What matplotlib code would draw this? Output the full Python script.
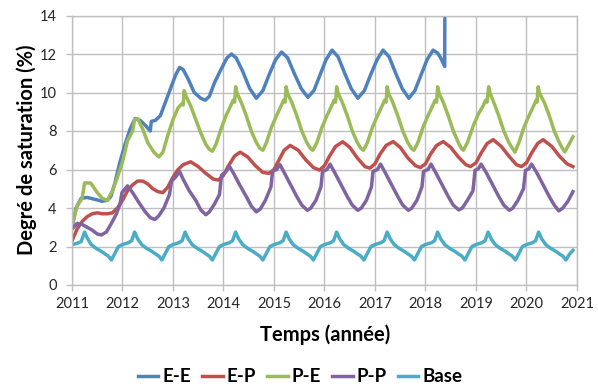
import matplotlib
matplotlib.use('Agg')
import matplotlib.pyplot as plt

plt.rcParams['font.family'] = ['Lato', 'DejaVu Sans']

# E-E
ee_t = [2011.0, 2011.08, 2011.18, 2011.3, 2011.45, 2011.6, 2011.7, 2011.77, 2011.85, 2011.95,
        2012.05, 2012.15, 2012.25, 2012.35, 2012.45, 2012.55, 2012.57, 2012.65, 2012.75, 2012.85,
        2012.95, 2013.05, 2013.13, 2013.2, 2013.3, 2013.42, 2013.55, 2013.64, 2013.72, 2013.82,
        2013.95, 2014.07, 2014.16, 2014.25, 2014.38, 2014.52, 2014.65, 2014.78, 2014.9, 2015.03,
        2015.15, 2015.27, 2015.4, 2015.54, 2015.67, 2015.79, 2015.91, 2016.03, 2016.15, 2016.27,
        2016.4, 2016.53, 2016.66, 2016.79, 2016.91, 2017.04, 2017.16, 2017.28, 2017.41, 2017.54,
        2017.67, 2017.79, 2017.91, 2018.03, 2018.15, 2018.24, 2018.3, 2018.38, 2018.385]
ee_v = [3.0, 4.0, 4.5, 4.55, 4.45, 4.35, 4.4, 4.6, 5.3, 6.4,
        7.3, 8.1, 8.65, 8.55, 8.3, 8.0, 8.5, 8.55, 8.8, 9.5,
        10.2, 10.9, 11.3, 11.2, 10.7, 10.0, 9.7, 9.6, 9.8, 10.5,
        11.2, 11.8, 12.0, 11.8, 11.1, 10.2, 9.7, 10.1, 10.9, 11.7,
        12.1, 11.8, 11.0, 10.2, 9.75, 10.1, 10.9, 11.7, 12.2, 11.85,
        11.0, 10.2, 9.7, 10.1, 10.9, 11.7, 12.2, 11.85, 11.0, 10.2,
        9.7, 10.1, 10.9, 11.7, 12.2, 12.05, 11.8, 11.35, 16.0]

# E-P
ep_t = [2011.0, 2011.1, 2011.2, 2011.3, 2011.4, 2011.5, 2011.6, 2011.7, 2011.8, 2011.9,
        2012.0, 2012.1, 2012.2, 2012.3, 2012.4, 2012.5, 2012.6, 2012.7, 2012.8, 2012.9,
        2013.0, 2013.1, 2013.2, 2013.35, 2013.5, 2013.65, 2013.8, 2013.9, 2014.0, 2014.1,
        2014.22, 2014.33, 2014.48, 2014.63, 2014.78, 2014.9, 2015.0, 2015.1, 2015.2, 2015.32,
        2015.48, 2015.63, 2015.78, 2015.9, 2016.0, 2016.1, 2016.22, 2016.36, 2016.5, 2016.65,
        2016.8, 2016.9, 2017.0, 2017.1, 2017.22, 2017.36, 2017.5, 2017.65, 2017.8, 2017.9,
        2018.0, 2018.1, 2018.22, 2018.35, 2018.5, 2018.65, 2018.8, 2018.89, 2019.0, 2019.1,
        2019.22, 2019.34, 2019.5, 2019.65, 2019.8, 2019.9, 2020.0, 2020.1, 2020.22, 2020.33,
        2020.5, 2020.65, 2020.8, 2020.92]
ep_v = [2.3, 2.9, 3.3, 3.55, 3.7, 3.75, 3.7, 3.7, 3.75, 4.0,
        4.4, 4.9, 5.2, 5.4, 5.4, 5.25, 5.0, 4.85, 4.8, 5.1,
        5.6, 6.0, 6.25, 6.4, 6.15, 5.8, 5.5, 5.45, 5.7, 6.2,
        6.7, 6.9, 6.65, 6.2, 5.85, 5.8, 6.0, 6.5, 7.0, 7.25,
        7.0, 6.5, 6.1, 5.97, 6.2, 6.7, 7.2, 7.44, 7.15, 6.6,
        6.15, 6.07, 6.3, 6.8, 7.25, 7.45, 7.15, 6.6, 6.2, 6.1,
        6.3, 6.8, 7.25, 7.45, 7.15, 6.65, 6.25, 6.15, 6.35, 6.85,
        7.35, 7.55, 7.2, 6.7, 6.25, 6.15, 6.35, 6.85, 7.35, 7.55,
        7.2, 6.7, 6.3, 6.15]

# P-E
pe_t = [2011.0, 2011.1, 2011.2, 2011.25, 2011.37, 2011.5, 2011.6, 2011.7, 2011.8, 2011.9,
        2012.0, 2012.1, 2012.2, 2012.24, 2012.3, 2012.4, 2012.5, 2012.62, 2012.72, 2012.8,
        2012.9, 2013.0, 2013.1, 2013.17, 2013.2, 2013.22, 2013.26, 2013.35, 2013.45, 2013.55,
        2013.65, 2013.72, 2013.78, 2013.85, 2013.95, 2014.05, 2014.14, 2014.19, 2014.22, 2014.24,
        2014.27, 2014.35, 2014.45, 2014.55, 2014.65, 2014.72, 2014.78, 2014.85, 2014.95, 2015.05,
        2015.14, 2015.19, 2015.22, 2015.24, 2015.27, 2015.35, 2015.45, 2015.55, 2015.65, 2015.72,
        2015.77, 2015.85, 2015.95, 2016.05, 2016.14, 2016.19, 2016.22, 2016.24, 2016.27, 2016.35,
        2016.45, 2016.55, 2016.65, 2016.72, 2016.77, 2016.85, 2016.95, 2017.05, 2017.14, 2017.19,
        2017.22, 2017.24, 2017.27, 2017.35, 2017.45, 2017.55, 2017.65, 2017.72, 2017.77, 2017.85,
        2017.95, 2018.05, 2018.14, 2018.19, 2018.22, 2018.24, 2018.27, 2018.35, 2018.45, 2018.55,
        2018.65, 2018.71, 2018.75, 2018.83, 2018.95, 2019.05, 2019.14, 2019.19, 2019.22, 2019.25,
        2019.28, 2019.35, 2019.45, 2019.55, 2019.65, 2019.72, 2019.77, 2019.85, 2019.95, 2020.05,
        2020.14, 2020.19, 2020.21, 2020.23, 2020.26, 2020.35, 2020.45, 2020.55, 2020.65, 2020.71,
        2020.76, 2020.84, 2020.92]
pe_v = [3.1, 4.1, 4.5, 5.3, 5.3, 4.8, 4.5, 4.4, 4.9, 5.6,
        6.4, 7.5, 8.0, 8.6, 8.65, 8.1, 7.4, 6.9, 6.65, 6.9,
        7.8, 8.6, 9.2, 9.4, 9.35, 10.1, 9.8, 9.3, 8.6, 7.9,
        7.3, 7.05, 6.95, 7.3, 8.1, 8.8, 9.3, 9.6, 9.5, 10.3,
        9.95, 9.5, 8.8, 8.0, 7.4, 7.1, 7.0, 7.4, 8.2, 8.8,
        9.3, 9.6, 9.5, 10.3, 9.95, 9.5, 8.8, 8.0, 7.4, 7.1,
        7.0, 7.4, 8.2, 8.8, 9.3, 9.6, 9.5, 10.3, 9.95, 9.5,
        8.8, 8.0, 7.4, 7.1, 7.0, 7.4, 8.2, 8.8, 9.3, 9.6,
        9.5, 10.3, 9.95, 9.5, 8.8, 8.0, 7.4, 7.1, 7.0, 7.4,
        8.2, 8.8, 9.3, 9.6, 9.5, 10.3, 9.95, 9.5, 8.8, 8.0,
        7.4, 7.1, 7.0, 7.4, 8.3, 8.9, 9.3, 9.6, 9.5, 10.3,
        9.95, 9.5, 8.8, 8.0, 7.4, 7.1, 6.9, 7.4, 8.2, 8.8,
        9.3, 9.6, 9.5, 10.3, 9.95, 9.5, 8.8, 8.0, 7.4, 7.1,
        6.92, 7.3, 7.7]

# P-P
pp_t = [2011.0, 2011.1, 2011.2, 2011.3, 2011.4, 2011.5, 2011.58, 2011.68, 2011.78, 2011.88,
        2011.95, 2011.99, 2012.1, 2012.2, 2012.32, 2012.45, 2012.55, 2012.64, 2012.72, 2012.82,
        2012.93, 2012.97, 2013.05, 2013.13, 2013.2, 2013.32, 2013.45, 2013.55, 2013.65, 2013.72,
        2013.82, 2013.92, 2013.96, 2014.05, 2014.12, 2014.2, 2014.32, 2014.45, 2014.55, 2014.65,
        2014.73, 2014.83, 2014.94, 2014.97, 2015.05, 2015.12, 2015.2, 2015.32, 2015.45, 2015.55,
        2015.66, 2015.73, 2015.83, 2015.93, 2015.96, 2016.05, 2016.11, 2016.2, 2016.32, 2016.45,
        2016.55, 2016.66, 2016.73, 2016.83, 2016.93, 2016.96, 2017.05, 2017.11, 2017.2, 2017.32,
        2017.45, 2017.55, 2017.66, 2017.73, 2017.83, 2017.93, 2017.96, 2018.05, 2018.11, 2018.2,
        2018.32, 2018.45, 2018.55, 2018.66, 2018.73, 2018.83, 2018.94, 2018.98, 2019.05, 2019.1,
        2019.2, 2019.32, 2019.45, 2019.55, 2019.66, 2019.73, 2019.83, 2019.94, 2019.98, 2020.05,
        2020.1, 2020.2, 2020.32, 2020.45, 2020.55, 2020.64, 2020.72, 2020.82, 2020.92]
pp_v = [2.9, 3.2, 3.15, 3.0, 2.85, 2.65, 2.6, 2.75, 3.2, 3.7,
        4.2, 4.8, 5.15, 4.8, 4.3, 3.8, 3.5, 3.4, 3.6, 4.0,
        4.7, 5.4, 5.6, 5.9, 5.5, 4.9, 4.4, 3.9, 3.65, 3.8,
        4.2, 4.7, 5.7, 5.9, 6.15, 5.8, 5.2, 4.6, 4.1, 3.8,
        3.95, 4.4, 5.1, 5.9, 6.0, 6.25, 5.85, 5.25, 4.6, 4.15,
        3.88, 4.0, 4.4, 5.1, 5.9, 6.0, 6.28, 5.85, 5.25, 4.6,
        4.15, 3.88, 4.0, 4.4, 5.1, 5.9, 6.0, 6.28, 5.85, 5.25,
        4.6, 4.15, 3.88, 4.0, 4.4, 5.1, 5.9, 6.0, 6.28, 5.85,
        5.25, 4.6, 4.15, 3.9, 4.0, 4.4, 4.9, 5.95, 6.05, 6.28,
        5.85, 5.25, 4.6, 4.15, 3.88, 4.0, 4.4, 5.0, 5.95, 6.05,
        6.28, 5.85, 5.25, 4.6, 4.15, 3.85, 4.0, 4.35, 4.85]

# Base
base_t = [2011.0, 2011.08, 2011.18, 2011.25, 2011.3, 2011.38, 2011.48, 2011.58, 2011.66, 2011.72,
          2011.78, 2011.85, 2011.92, 2012.0, 2012.12, 2012.18, 2012.24, 2012.3, 2012.38, 2012.48,
          2012.58, 2012.66, 2012.72, 2012.78, 2012.85, 2012.92, 2013.0, 2013.12, 2013.18, 2013.24,
          2013.3, 2013.38, 2013.48, 2013.58, 2013.66, 2013.72, 2013.78, 2013.85, 2013.92, 2014.0,
          2014.12, 2014.18, 2014.24, 2014.3, 2014.38, 2014.48, 2014.58, 2014.66, 2014.72, 2014.78,
          2014.85, 2014.92, 2015.0, 2015.12, 2015.18, 2015.24, 2015.3, 2015.38, 2015.48, 2015.58,
          2015.66, 2015.72, 2015.78, 2015.85, 2015.92, 2016.0, 2016.12, 2016.18, 2016.24, 2016.3,
          2016.38, 2016.48, 2016.58, 2016.66, 2016.72, 2016.78, 2016.85, 2016.92, 2017.0, 2017.12,
          2017.18, 2017.24, 2017.3, 2017.38, 2017.48, 2017.58, 2017.66, 2017.72, 2017.78, 2017.85,
          2017.92, 2018.0, 2018.12, 2018.18, 2018.24, 2018.3, 2018.38, 2018.48, 2018.58, 2018.66,
          2018.72, 2018.78, 2018.85, 2018.92, 2019.0, 2019.12, 2019.18, 2019.24, 2019.3, 2019.38,
          2019.48, 2019.58, 2019.66, 2019.72, 2019.78, 2019.85, 2019.92, 2020.0, 2020.12, 2020.18,
          2020.24, 2020.3, 2020.38, 2020.48, 2020.58, 2020.66, 2020.72, 2020.78, 2020.85, 2020.92]
base_v = [2.1, 2.15, 2.25, 2.75, 2.45, 2.1, 1.9, 1.75, 1.6, 1.5,
          1.3, 1.65, 2.0, 2.1, 2.2, 2.3, 2.75, 2.4, 2.1, 1.9,
          1.75, 1.6, 1.5, 1.3, 1.65, 2.0, 2.1, 2.2, 2.3, 2.75,
          2.4, 2.1, 1.9, 1.75, 1.6, 1.5, 1.3, 1.65, 2.0, 2.1,
          2.2, 2.3, 2.75, 2.4, 2.1, 1.9, 1.75, 1.6, 1.5, 1.3,
          1.65, 2.0, 2.1, 2.2, 2.3, 2.75, 2.4, 2.1, 1.9, 1.75,
          1.6, 1.5, 1.3, 1.65, 2.0, 2.1, 2.2, 2.3, 2.75, 2.4,
          2.1, 1.9, 1.75, 1.6, 1.5, 1.3, 1.65, 2.0, 2.1, 2.2,
          2.3, 2.75, 2.4, 2.1, 1.9, 1.75, 1.6, 1.5, 1.3, 1.65,
          2.0, 2.1, 2.2, 2.3, 2.75, 2.4, 2.1, 1.9, 1.75, 1.6,
          1.5, 1.3, 1.65, 2.0, 2.1, 2.2, 2.3, 2.75, 2.4, 2.1,
          1.9, 1.75, 1.6, 1.5, 1.3, 1.65, 2.0, 2.1, 2.2, 2.3,
          2.75, 2.4, 2.1, 1.9, 1.75, 1.6, 1.5, 1.3, 1.6, 1.8]

series = [('E-E', ee_t, ee_v, '#4F81BD'),
          ('E-P', ep_t, ep_v, '#C0504D'),
          ('P-E', pe_t, pe_v, '#9BBB59'),
          ('P-P', pp_t, pp_v, '#8064A2'),
          ('Base', base_t, base_v, '#4BACC6')]

years = list(range(2011, 2022))
yticks = list(range(0, 15, 2))

fig = plt.figure(figsize=(5.98, 3.87), dpi=100)
ax = fig.add_axes([72/598, 1-285/387, 505/598, 269.5/387])

for name, t, v, col in series:
    ax.plot(t, v, color=col, lw=2.5, label=name, solid_joinstyle='round')

ax.set_xlim(2011, 2021)
ax.set_ylim(0, 14)
ax.set_xticks(years)
ax.set_yticks(yticks)
ax.grid(True, color='#bfbfbf', lw=1)
ax.set_axisbelow(True)
for s in ax.spines.values():
    s.set_color('#bfbfbf')
    s.set_linewidth(1)
ax.tick_params('x', length=4, width=1, color='#bfbfbf', pad=5, labelsize=10.5, labelcolor='#262626')
ax.tick_params('y', length=4, width=1, color='#bfbfbf', pad=7, labelsize=10.5, labelcolor='#262626')

fig.text(27/598, 1-150/387, 'Degré de saturation (%)', rotation=90, ha='center', va='center',
         fontsize=14.5, fontweight='bold')
fig.text(325/598, 1-335/387, 'Temps (année)', ha='center', va='center',
         fontsize=14.5, fontweight='bold')

fig.legend(loc='center', bbox_to_anchor=(300/598, 1-377/387), ncol=5, frameon=False,
           prop={'size': 13.5, 'weight': 'bold'}, handlelength=1.1, handletextpad=0.2,
           columnspacing=0.6, borderpad=0)

fig.savefig('out.png', dpi=100)
